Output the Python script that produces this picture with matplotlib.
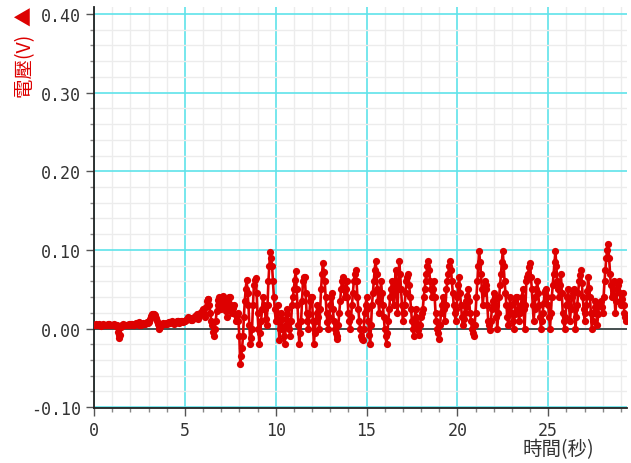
import numpy as np
import matplotlib.pyplot as plt
from matplotlib.ticker import MultipleLocator, FormatStrFormatter

# 取樣間隔 0.05 秒
dt = 0.05

# 0 ~ 5.5 秒：幾乎靜止
voltage_quiet = [
    0.005, 0.004, 0.006, 0.005, 0.004, 0.005, 0.006, 0.004, 0.003, 0.005,
    0.006, 0.005, 0.005, 0.004, 0.004, 0.006, 0.006, 0.005, 0.005, 0.004,
    0.004, 0.005, 0.006, 0.004, 0.003, 0.005, -0.004, -0.008, -0.012, -0.008,
    0.002, 0.005, 0.006, 0.005, 0.005, 0.004, 0.004, 0.005, 0.006, 0.005,
    0.005, 0.006, 0.006, 0.005, 0.004, 0.006, 0.007, 0.006, 0.006, 0.005,
    0.008, 0.007, 0.005, 0.006, 0.007, 0.006, 0.006, 0.007, 0.008, 0.007,
    0.008, 0.010, 0.012, 0.016, 0.018, 0.019, 0.019, 0.017, 0.014, 0.010,
    0.006, 0.003, -0.001, 0.002, 0.005, 0.006, 0.007, 0.006, 0.006, 0.007,
    0.006, 0.007, 0.008, 0.008, 0.007, 0.008, 0.009, 0.008, 0.006, 0.007,
    0.008, 0.009, 0.010, 0.009, 0.007, 0.008, 0.009, 0.010, 0.008, 0.009,
    0.010, 0.011, 0.012, 0.014, 0.015, 0.013, 0.013, 0.011, 0.011, 0.014,
]

# 5.5 秒以後：開始振盪
voltage_active = [
    0.014, 0.016, 0.013, 0.018, 0.015, 0.012, 0.016, 0.020, 0.018, 0.022,
    0.025, 0.020, 0.015, 0.028, 0.035, 0.037, 0.038, 0.030, 0.020, 0.010,
    0.005, -0.004, -0.010, 0.000, 0.010, 0.022, 0.030, 0.036, 0.040, 0.032,
    0.025, 0.035, 0.042, 0.038, 0.030, 0.022, 0.015, 0.025, 0.035, 0.040,
    0.040, 0.030, 0.020, 0.026, 0.030, 0.018, 0.010, 0.016, 0.020, 0.010,
    -0.010, -0.045, -0.035, -0.025, -0.010, 0.015, 0.035, 0.050, 0.062, 0.045,
    0.030, 0.005, -0.020, -0.012, 0.000, 0.030, 0.055, 0.062, 0.064, 0.045,
    0.020, 0.000, -0.020, -0.005, 0.010, 0.025, 0.040, 0.030, 0.025, 0.012,
    0.005, 0.030, 0.060, 0.080, 0.097, 0.090, 0.080, 0.060, 0.040, 0.025,
    0.010, 0.020, 0.030, 0.010, -0.015, 0.000, 0.020, 0.012, 0.000, -0.010,
    -0.020, 0.005, 0.025, 0.018, 0.010, 0.000, -0.010, 0.010, 0.030, 0.040,
    0.050, 0.062, 0.073, 0.050, 0.030, 0.005, -0.020, -0.005, 0.010, 0.035,
    0.060, 0.065, 0.065, 0.045, 0.020, 0.010, 0.000, 0.018, 0.035, 0.040,
    0.040, 0.010, -0.020, -0.005, 0.010, 0.020, 0.030, 0.015, 0.000, 0.025,
    0.050, 0.070, 0.083, 0.072, 0.060, 0.040, 0.020, 0.008, 0.000, 0.015,
    0.030, 0.040, 0.045, 0.025, 0.010, 0.000, -0.005, -0.010, -0.013, 0.005,
    0.020, 0.035, 0.050, 0.060, 0.065, 0.050, 0.040, 0.050, 0.060, 0.040,
    0.020, 0.010, 0.000, 0.015, 0.030, 0.045, 0.060, 0.070, 0.075, 0.060,
    0.040, 0.025, 0.010, 0.000, -0.010, -0.013, -0.015, 0.000, 0.020, 0.030,
    0.040, 0.025, 0.010, -0.008, -0.020, 0.005, 0.030, 0.045, 0.060, 0.075,
    0.086, 0.070, 0.050, 0.035, 0.020, 0.040, 0.060, 0.045, 0.030, 0.015,
    0.000, -0.010, -0.020, -0.005, 0.010, 0.025, 0.040, 0.050, 0.060, 0.045,
    0.030, 0.050, 0.075, 0.050, 0.020, 0.050, 0.086, 0.070, 0.050, 0.030,
    0.010, 0.020, 0.030, 0.045, 0.060, 0.065, 0.070, 0.055, 0.040, 0.025,
    0.010, 0.000, -0.010, 0.010, 0.025, 0.015, 0.005, -0.002, -0.008, 0.005,
    0.015, 0.020, 0.025, 0.040, 0.050, 0.060, 0.070, 0.080, 0.086, 0.075,
    0.060, 0.050, 0.040, 0.050, 0.060, 0.040, 0.020, 0.010, 0.000, -0.006,
    -0.013, 0.005, 0.020, 0.030, 0.040, 0.025, 0.010, 0.030, 0.050, 0.060,
    0.070, 0.080, 0.086, 0.075, 0.060, 0.045, 0.030, 0.020, 0.010, 0.025,
    0.040, 0.055, 0.065, 0.045, 0.030, 0.015, 0.005, 0.012, 0.020, 0.028,
    0.035, 0.042, 0.050, 0.035, 0.020, 0.010, 0.000, -0.005, -0.009, 0.005,
    0.020, 0.040, 0.060, 0.080, 0.099, 0.085, 0.070, 0.050, 0.030, 0.045,
    0.060, 0.055, 0.050, 0.030, 0.010, 0.004, -0.002, 0.010, 0.025, 0.035,
    0.045, 0.038, 0.030, 0.015, 0.000, 0.020, 0.040, 0.055, 0.070, 0.085,
    0.099, 0.080, 0.060, 0.045, 0.030, 0.015, 0.005, 0.020, 0.040, 0.030,
    0.020, 0.010, 0.000, 0.018, 0.035, 0.040, 0.040, 0.025, 0.010, 0.020,
    0.030, 0.040, 0.050, 0.025, 0.000, 0.030, 0.060, 0.065, 0.070, 0.078,
    0.083, 0.065, 0.050, 0.030, 0.010, 0.025, 0.040, 0.050, 0.060, 0.045,
    0.030, 0.015, 0.000, 0.010, 0.020, 0.032, 0.045, 0.048, 0.050, 0.040,
    0.030, 0.015, 0.000, 0.020, 0.040, 0.055, 0.070, 0.085, 0.098, 0.080,
    0.060, 0.050, 0.040, 0.055, 0.070, 0.045, 0.020, 0.010, 0.000, 0.015,
    0.030, 0.040, 0.050, 0.030, 0.010, 0.025, 0.040, 0.045, 0.050, 0.025,
    0.000, 0.015, 0.030, 0.045, 0.060, 0.068, 0.075, 0.058, 0.040, 0.025,
    0.010, 0.020, 0.030, 0.048, 0.065, 0.052, 0.040, 0.020, 0.000, 0.010,
    0.020, 0.028, 0.035, 0.020, 0.005, 0.018, 0.030, 0.032, 0.035, 0.028,
    0.020, 0.040, 0.060, 0.075, 0.090, 0.100, 0.108, 0.090, 0.070, 0.055,
    0.040, 0.050, 0.060, 0.040, 0.020, 0.035, 0.050, 0.055, 0.060, 0.045,
    0.030, 0.038, 0.045, 0.030, 0.020, 0.015, 0.010,
]

voltage = voltage_quiet + voltage_active
time = np.arange(len(voltage)) * dt

cyan = '#5fe3ea'
red = '#dd0000'
txt = '#333333'

fig = plt.figure(figsize=(6.31, 4.64), dpi=100)
ax = fig.add_axes([0.149, 0.1185, 0.845, 0.8645])

ax.set_xlim(0, 29.35)
ax.set_ylim(-0.101, 0.409)

# 格線：主格線青色，次格線淺灰
ax.xaxis.set_major_locator(MultipleLocator(5))
ax.xaxis.set_minor_locator(MultipleLocator(1))
ax.yaxis.set_major_locator(MultipleLocator(0.1))
ax.yaxis.set_minor_locator(MultipleLocator(0.02))
ax.yaxis.set_major_formatter(FormatStrFormatter('%.2f'))
ax.grid(which='minor', color='#ececec', linewidth=1.0)
ax.grid(which='major', color=cyan, linewidth=1.2)
ax.set_axisbelow(True)

ax.axhline(0, color='#444444', linewidth=1.3, zorder=1.5)

for s in ['top', 'right']:
    ax.spines[s].set_visible(False)
ax.spines['left'].set_color('#222222')
ax.spines['bottom'].set_color('#222222')
ax.spines['left'].set_linewidth(1.3)
ax.spines['bottom'].set_linewidth(1.3)

ax.tick_params(which='major', length=6, color='#555555', width=1,
               labelsize=12, labelcolor=txt)
ax.tick_params(which='minor', length=3, color='#888888', width=1)
for lab in ax.get_xticklabels() + ax.get_yticklabels():
    lab.set_family('DejaVu Sans Mono')

ax.plot(time, voltage, color=red, linewidth=1.9, marker='o',
        markersize=5.2, markeredgewidth=0, zorder=3)

cjk = ['Noto Sans CJK TC', 'DejaVu Sans']
fig.text(0.04, 0.985, '電壓(V)  ▲', rotation=90, color=red, fontsize=14,
         family=cjk, ha='center', va='top')
fig.text(0.885, 0.03, '時間(秒)', color=txt, fontsize=14, family=cjk,
         ha='center', va='center')

plt.savefig('out.png', dpi=100)
